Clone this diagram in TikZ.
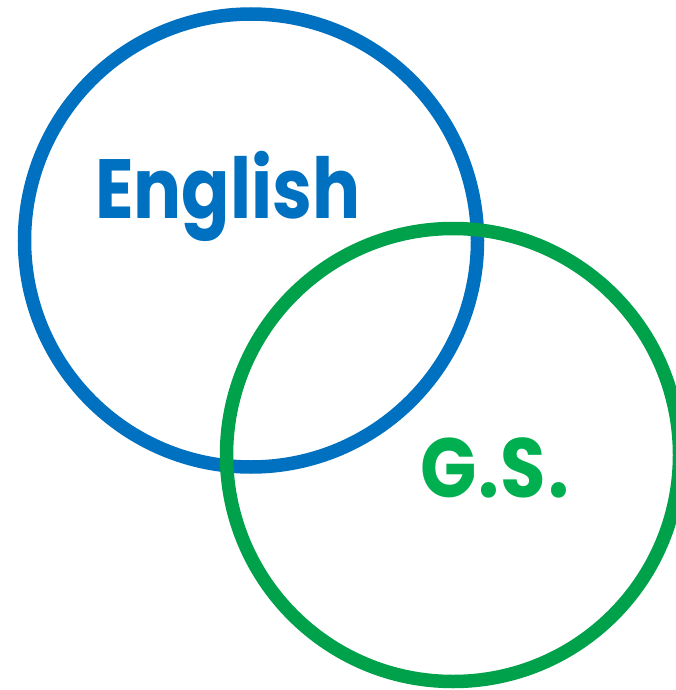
\documentclass[tikz,border=0pt]{standalone}
\usepackage{fontspec}
\setmainfont{Poppins}
\definecolor{cblue}{HTML}{0070C0}
\definecolor{cgreen}{HTML}{00A14B}
\definecolor{tgreen}{HTML}{00B050}
\begin{document}
\begin{tikzpicture}[x=1pt,y=-1pt,
  ring/.style={line width=13.5pt},
  lbl/.style={inner sep=0pt,anchor=base west,font=\fontsize{84}{90}\selectfont\bfseries}]
\useasboundingbox (0,0) rectangle (676,690);
\begin{scope}
\clip (0,0) rectangle (676,690);
\draw[ring,cblue] (251,240.5) circle[radius=226.5];
\draw[ring,cgreen] (453,455) circle[radius=226.5];
\end{scope}
\node[lbl,text=cblue,xscale=0.85] (en) at (95,218) {English};
\node[lbl,text=tgreen,xscale=0.88] (gs) at (420,497) {G\kern2pt.\kern2pt S\kern2pt.};
\end{tikzpicture}
\end{document}
